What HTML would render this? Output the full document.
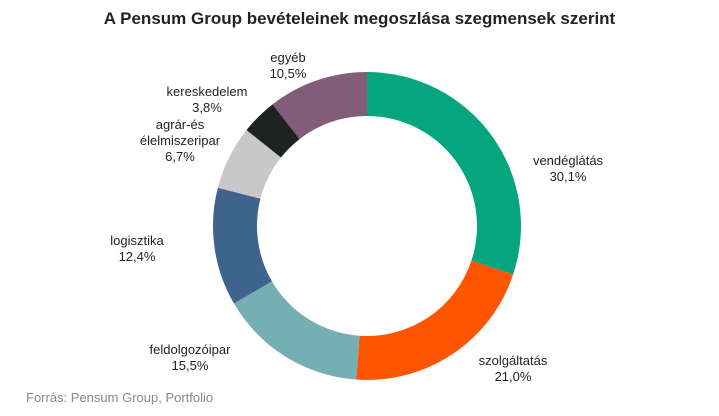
<!DOCTYPE html>
<html><head><meta charset="utf-8"><style>
body{margin:0;width:719px;height:416px;background:#fff;font-family:"Liberation Sans",sans-serif;overflow:hidden;position:relative}
.t{position:absolute;left:0;width:719px;top:9px;text-align:center;font-weight:bold;font-size:17px;color:#222}
.l{position:absolute;font-size:13px;color:#222;text-align:center;line-height:16px;transform:translateX(-50%)}
.src{position:absolute;left:26px;top:390px;font-size:13px;color:#888}
</style></head><body>
<div class="t">A Pensum Group bevételeinek megoszlása szegmensek szerint</div>
<svg id="c" width="719" height="416" style="position:absolute;left:0;top:0"></svg>
<div class="l" style="left:568px;top:153px">vendéglátás<br>30,1%</div>
<div class="l" style="left:513px;top:353px">szolgáltatás<br>21,0%</div>
<div class="l" style="left:190px;top:342px">feldolgozóipar<br>15,5%</div>
<div class="l" style="left:137px;top:233px">logisztika<br>12,4%</div>
<div class="l" style="left:180px;top:117px">agrár-és<br>élelmiszeripar<br>6,7%</div>
<div class="l" style="left:207px;top:84px">kereskedelem<br>3,8%</div>
<div class="l" style="left:288px;top:50px">egyéb<br>10,5%</div>
<div class="src">Forrás: Pensum Group, Portfolio</div>
<script>
const categories=["vendéglátás","szolgáltatás","feldolgozóipar","logisztika","agrár-és élelmiszeripar","kereskedelem","egyéb"];
const values=[30.1,21.0,15.5,12.4,6.7,3.8,10.5];
const colors=["#05a67f","#fe5500","#76afb3","#3e648e","#c8c8c8","#1d2321","#815d7a"];
const svg=document.getElementById('c');
const cx=367,cy=226,R=154,r=110;
const total=values.reduce((a,b)=>a+b,0);
let a0=0;
function pt(rad,a){return [cx+rad*Math.sin(a),cy-rad*Math.cos(a)];}
values.forEach((v,i)=>{
 const a1=a0+v/total*2*Math.PI;
 const lg=(a1-a0)>Math.PI?1:0;
 const [x1,y1]=pt(R,a0),[x2,y2]=pt(R,a1),[x3,y3]=pt(r,a1),[x4,y4]=pt(r,a0);
 const p=document.createElementNS('http://www.w3.org/2000/svg','path');
 p.setAttribute('d',`M${x1},${y1}A${R},${R} 0 ${lg} 1 ${x2},${y2}L${x3},${y3}A${r},${r} 0 ${lg} 0 ${x4},${y4}Z`);
 p.setAttribute('fill',colors[i]);
 
 
 svg.appendChild(p);
 a0=a1;
});
</script>
</body></html>
